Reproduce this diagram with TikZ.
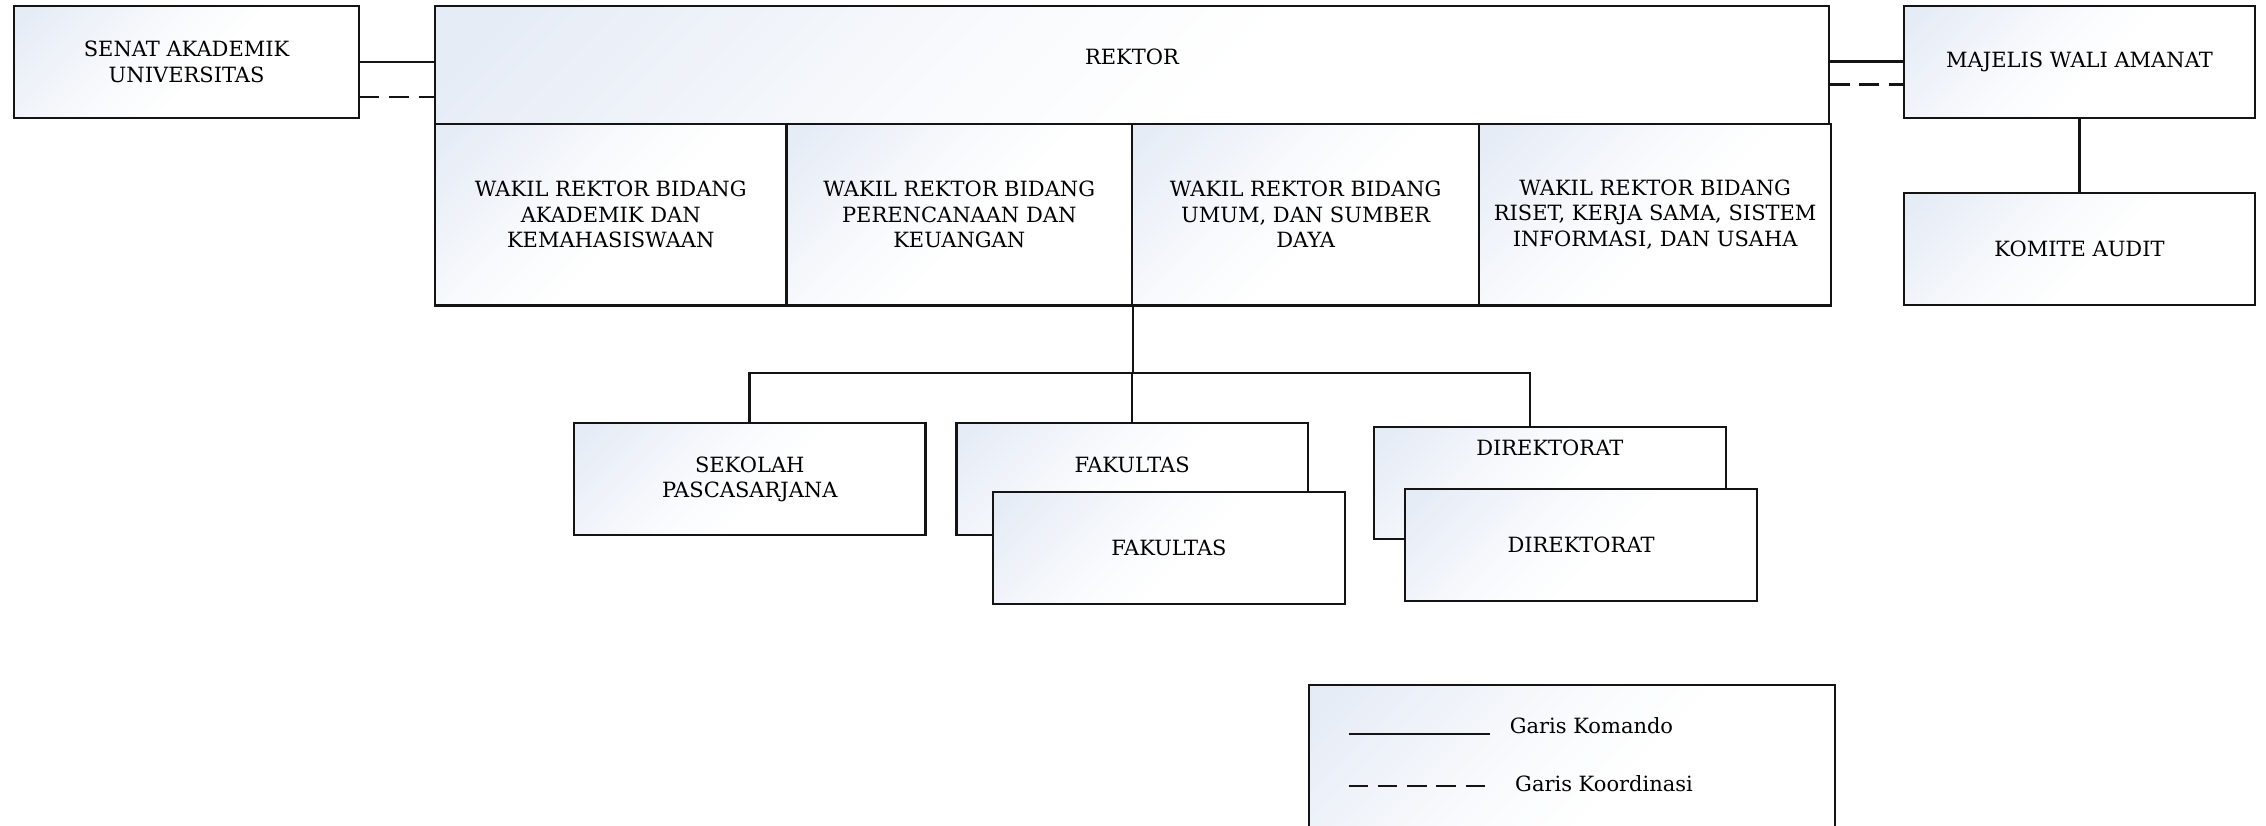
\documentclass[tikz,border=0pt]{standalone}
\usepackage{fontspec}
\setmainfont{DejaVu Serif}
\usetikzlibrary{calc}
\definecolor{shA}{RGB}{230,236,246}
\definecolor{lineC}{RGB}{20,20,20}
\pgfdeclarehorizontalshading{boxshade}{100bp}{color(0bp)=(shA); color(18bp)=(shA); color(42bp)=(shA!25!white); color(55bp)=(white); color(100bp)=(white)}
\tikzset{
  orgbox/.style={draw=lineC, line width=2.2pt, shading=boxshade, shading angle=-45,
    align=center, inner sep=0pt, text=black, font=\fontsize{21}{25.5}\selectfont},
  lbl/.style={inner sep=0pt, text=black, align=center, font=\fontsize{21}{25.5}\selectfont},
  conn/.style={draw=lineC, line width=2.6pt},
  coord/.style={conn, dash pattern=on 19.5pt off 9.8pt}
}
\begin{document}
\begin{tikzpicture}[x=1pt,y=-1pt]
\useasboundingbox (0,0) rectangle (2266,825);
% top row
\node[orgbox, minimum width=344.5pt, minimum height=112.6pt] (senat) at (186.6,62) {SENAT AKADEMIK\\UNIVERSITAS};
\node[orgbox, minimum width=1394pt, minimum height=117.7pt] (rektor) at (1132,64.8) {};
\node[lbl] (rektorlbl) at ([yshift=8pt]rektor.center) {REKTOR};
\node[orgbox, minimum width=351pt, minimum height=112pt] (mwa) at (2079.5,61.7) {MAJELIS WALI AMANAT};
\node[orgbox, minimum width=351pt, minimum height=112pt] (komite) at (2079.5,249) {KOMITE AUDIT};
% wakil rektor row
\node[orgbox, minimum width=351.5pt, minimum height=181.8pt] (w1) at (610.75,214.6) {WAKIL REKTOR BIDANG\\AKADEMIK DAN\\KEMAHASISWAAN};
\node[orgbox, minimum width=345.5pt, minimum height=181.8pt] (w2) at (959.25,214.6) {WAKIL REKTOR BIDANG\\PERENCANAAN DAN\\KEUANGAN};
\node[orgbox, minimum width=347.3pt, minimum height=181.8pt] (w3) at (1305.65,214.6) {WAKIL REKTOR BIDANG\\UMUM, DAN SUMBER\\DAYA};
\node[orgbox, minimum width=351.7pt, minimum height=181.8pt] (w4) at (1655.15,214.6) {WAKIL REKTOR BIDANG\\RISET, KERJA SAMA, SISTEM\\INFORMASI, DAN USAHA};
% lower units
\node[orgbox, minimum width=351.5pt, minimum height=112.3pt] (sekolah) at (749.75,479.2) {SEKOLAH\\PASCASARJANA};
\node[orgbox, minimum width=351.4pt, minimum height=112.3pt] (fak1) at (1132.1,479.2) {};
\node[lbl] (fak1lbl) at ([yshift=-43pt]fak1.north) {FAKULTAS};
\node[orgbox, minimum width=352pt, minimum height=112.3pt] (fak2) at (1169,548.2) {FAKULTAS};
\node[orgbox, minimum width=351.7pt, minimum height=112pt] (dir1) at (1549.75,483) {};
\node[lbl] (dir1lbl) at ([yshift=-22pt]dir1.north) {DIREKTORAT};
\node[orgbox, minimum width=352pt, minimum height=112.3pt] (dir2) at (1581,544.9) {DIREKTORAT};
% connectors
\draw[conn] (senat.east) -- (senat.east -| rektor.west);
\draw[coord] ([yshift=-35pt]senat.east) -- ([yshift=-35pt]senat.east -| rektor.west);
\draw[conn] (mwa.west -| rektor.east) -- (mwa.west);
\draw[coord] ([yshift=-22.6pt]mwa.west -| rektor.east) -- ([yshift=-22.6pt]mwa.west);
\draw[conn] (mwa.south) -- (komite.north);
\coordinate (busL) at (749.75,373);
\coordinate (busR) at (1530,373);
\draw[conn] (w2.south east) -- (w2.south east |- busL);
\draw[conn] (sekolah.north) -- (sekolah.north |- busL) -- (busR) -- (busR |- dir1.north);
\draw[conn] (fak1.north) -- (fak1.north |- busL);
% legend
\node[orgbox, minimum width=526.2pt, minimum height=200pt, anchor=north west] (legend) at (1307.6,684) {};
\coordinate (k1) at (1349,734);
\coordinate (k2) at (1489.7,734);
\draw[conn] (k1) -- (k2);
\node[lbl, anchor=base west] (lk) at (1509.6,733.5) {Garis Komando};
\coordinate (d1) at (1348.5,786);
\coordinate (d2) at (1486,786);
\draw[coord] (d1) -- (d2);
\node[lbl, anchor=base west] (ld) at (1515,791) {Garis Koordinasi};
\end{tikzpicture}
\end{document}
